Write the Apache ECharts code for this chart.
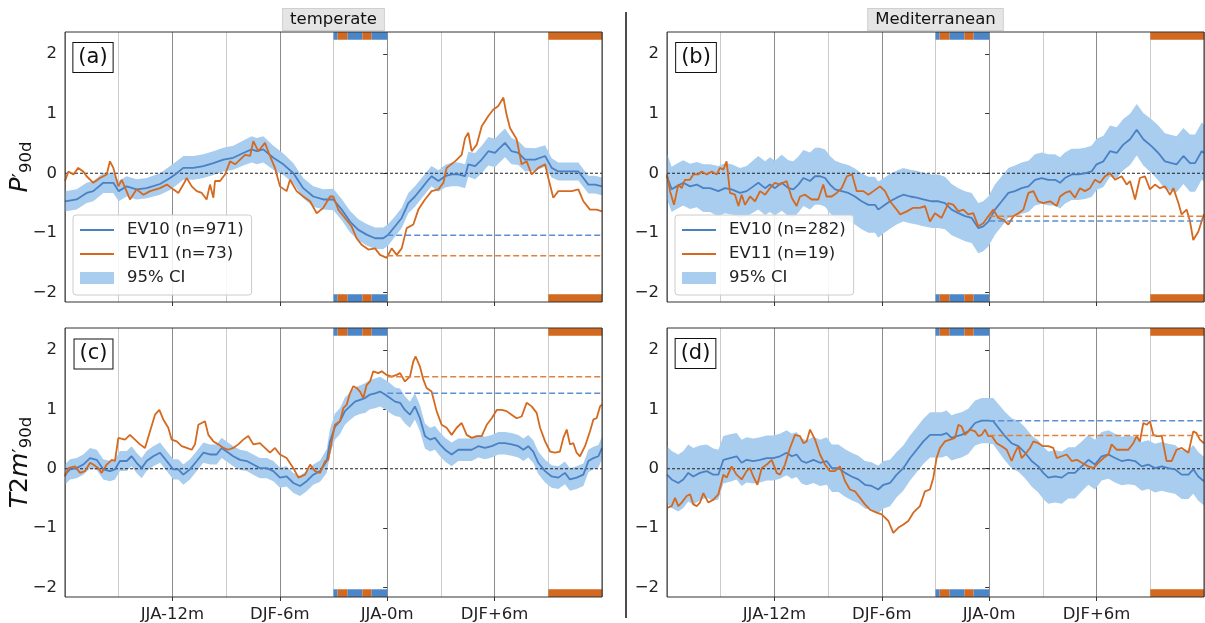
<!DOCTYPE html>
<html>
<head>
    <meta charset='utf-8' />
    <title>EV10 / EV11 composites</title>
    <script src="https://cdn.jsdelivr.net/npm/echarts@6.0.0/dist/echarts.min.js"></script>
</head>
<body style='margin:0;width:1205px;height:623px;background:#fff;'>
<div id='chart' style='width:1205px;height:623px;'></div>

<script type='text/javascript'>
    // x axis: months relative to JJA-0m
    var xTicks = [-12, -6, 0, 6];
    var xTickNames = ['JJA-12m', 'DJF-6m', 'JJA-0m', 'DJF+6m'];
    var yTicks = [-2, -1, 0, 1, 2];

    // seasonal marker bars (months, colour key)
    var stripeBar = [[-3, -2.77, 'b'], [-2.77, -2.21, 'o'], [-2.21, -1.39, 'b'], [-1.39, -0.87, 'o'], [-0.87, 0, 'b']];
    var orangeBar = [[9, 12, 'o']];

    // EV10 rows: [month, mean, CI half width]
    var aEV10 = [[-18,-0.47,0.17],[-17.35,-0.44,0.17],[-16.79,-0.33,0.17],[-16.42,-0.30,0.17],[-15.86,-0.16,0.17],[-15.30,-0.16,0.17],[-15.00,-0.30,0.17],[-14.56,-0.22,0.17],[-14.00,-0.27,0.17],[-13.44,-0.25,0.17],[-12.69,-0.18,0.18],[-12.13,-0.08,0.2],[-11.85,-0.02,0.2],[-11.39,0.09,0.2],[-10.83,0.09,0.2],[-10.27,0.12,0.2],[-9.71,0.17,0.2],[-9.15,0.23,0.2],[-8.60,0.26,0.2],[-8.04,0.34,0.21],[-7.57,0.40,0.22],[-7.29,0.37,0.22],[-6.92,0.40,0.22],[-6.36,0.26,0.2],[-5.80,0.15,0.18],[-5.24,0.00,0.17],[-4.69,-0.25,0.17],[-4.13,-0.39,0.17],[-3.57,-0.44,0.17],[-3.01,-0.44,0.18],[-2.54,-0.61,0.18],[-2.08,-0.81,0.18],[-1.61,-0.95,0.18],[-1.15,-1.03,0.18],[-0.68,-1.09,0.18],[-0.22,-1.09,0.18],[0.06,-1.03,0.18],[0.44,-0.89,0.17],[0.81,-0.75,0.17],[1.18,-0.50,0.17],[1.55,-0.39,0.17],[1.93,-0.25,0.17],[2.30,-0.11,0.17],[2.48,-0.05,0.17],[2.86,-0.13,0.18],[3.23,-0.05,0.19],[3.60,-0.02,0.2],[3.97,-0.02,0.2],[4.35,-0.05,0.2],[4.53,0.15,0.21],[4.91,0.12,0.22],[5.28,0.23,0.23],[5.65,0.37,0.24],[6.02,0.34,0.24],[6.21,0.40,0.24],[6.58,0.51,0.24],[6.95,0.37,0.22],[7.33,0.34,0.2],[7.70,0.23,0.2],[8.26,0.23,0.19],[8.82,0.29,0.18],[9.19,0.09,0.16],[9.56,0.03,0.15],[10.12,0.03,0.15],[10.68,0.03,0.15],[11.24,-0.19,0.15],[11.61,-0.19,0.15],[12,-0.22,0.15]];
    var bEV10 = [[-18,-0.05,0.38],[-17.74,-0.27,0.38],[-17.46,-0.22,0.38],[-17.09,-0.16,0.38],[-16.71,-0.22,0.38],[-16.34,-0.19,0.38],[-15.97,-0.25,0.4],[-15.60,-0.25,0.4],[-15.13,-0.30,0.42],[-14.76,-0.25,0.42],[-14.39,-0.27,0.42],[-13.92,-0.33,0.42],[-13.55,-0.30,0.42],[-13.18,-0.22,0.44],[-12.90,-0.16,0.45],[-12.52,-0.25,0.45],[-12.25,-0.19,0.46],[-11.97,-0.25,0.46],[-11.59,-0.16,0.47],[-11.22,-0.25,0.47],[-10.94,-0.27,0.47],[-10.66,-0.19,0.47],[-10.38,-0.08,0.47],[-10.01,-0.13,0.48],[-9.73,-0.05,0.48],[-9.45,-0.05,0.48],[-9.17,-0.08,0.48],[-8.89,-0.19,0.48],[-8.61,-0.27,0.48],[-8.24,-0.30,0.47],[-7.87,-0.33,0.47],[-7.50,-0.39,0.47],[-7.13,-0.47,0.47],[-6.75,-0.53,0.47],[-6.38,-0.53,0.47],[-6.20,-0.61,0.47],[-5.92,-0.55,0.46],[-5.54,-0.47,0.46],[-5.17,-0.41,0.45],[-4.80,-0.36,0.45],[-4.42,-0.39,0.45],[-4.05,-0.41,0.45],[-3.68,-0.44,0.45],[-3.21,-0.47,0.45],[-2.84,-0.47,0.45],[-2.47,-0.50,0.44],[-2.10,-0.61,0.43],[-1.72,-0.67,0.42],[-1.35,-0.72,0.42],[-0.98,-0.75,0.42],[-0.61,-0.92,0.42],[-0.33,-0.89,0.42],[-0.05,-0.81,0.42],[0.32,-0.61,0.42],[0.70,-0.47,0.42],[1.07,-0.33,0.42],[1.44,-0.30,0.43],[1.81,-0.25,0.43],[2.19,-0.22,0.43],[2.56,-0.11,0.43],[2.93,-0.08,0.43],[3.30,-0.11,0.43],[3.68,-0.11,0.43],[3.96,-0.16,0.43],[4.23,-0.08,0.43],[4.61,-0.02,0.43],[4.98,-0.02,0.43],[5.35,0.00,0.43],[5.72,0.03,0.43],[6.00,0.15,0.43],[6.38,0.20,0.43],[6.75,0.37,0.43],[7.12,0.34,0.43],[7.49,0.48,0.43],[7.87,0.57,0.43],[8.24,0.73,0.43],[8.61,0.57,0.44],[9.08,0.45,0.45],[9.45,0.34,0.46],[9.82,0.20,0.47],[10.19,0.17,0.47],[10.47,0.15,0.47],[10.85,0.29,0.47],[11.22,0.17,0.48],[11.50,0.17,0.48],[11.87,0.37,0.48],[12,0.34,0.48]];
    var cEV10 = [[-18,-0.10,0.17],[-17.72,-0.01,0.17],[-17.35,0.01,0.17],[-16.98,0.07,0.17],[-16.60,0.18,0.17],[-16.23,0.15,0.17],[-15.86,-0.01,0.17],[-15.49,-0.04,0.17],[-15.21,-0.01,0.17],[-14.93,0.13,0.17],[-14.55,0.13,0.17],[-14.28,0.21,0.17],[-14.00,0.10,0.17],[-13.72,0.01,0.17],[-13.44,0.13,0.17],[-13.07,0.21,0.17],[-12.69,0.27,0.17],[-12.32,0.13,0.17],[-11.95,-0.01,0.17],[-11.67,-0.01,0.17],[-11.39,-0.10,0.17],[-11.02,-0.01,0.17],[-10.64,0.13,0.17],[-10.27,0.27,0.17],[-9.90,0.24,0.17],[-9.53,0.24,0.17],[-9.25,0.35,0.17],[-8.97,0.29,0.17],[-8.60,0.21,0.17],[-8.22,0.15,0.17],[-7.85,0.13,0.17],[-7.48,0.07,0.17],[-7.11,0.01,0.17],[-6.73,0.01,0.17],[-6.36,-0.04,0.17],[-5.99,-0.15,0.17],[-5.62,-0.13,0.17],[-5.24,-0.24,0.17],[-4.87,-0.29,0.17],[-4.50,-0.21,0.17],[-4.13,-0.10,0.17],[-3.75,-0.04,0.18],[-3.38,0.13,0.2],[-3.20,0.45,0.21],[-2.92,0.71,0.22],[-2.64,0.80,0.22],[-2.36,0.97,0.23],[-2.08,1.05,0.23],[-1.80,1.13,0.24],[-1.52,1.16,0.24],[-1.24,1.19,0.25],[-0.96,1.25,0.25],[-0.68,1.27,0.25],[-0.40,1.30,0.25],[-0.12,1.25,0.25],[0.16,1.19,0.25],[0.44,1.13,0.24],[0.72,1.11,0.24],[0.99,0.99,0.23],[1.27,0.91,0.22],[1.55,1.05,0.22],[1.83,0.85,0.22],[2.11,0.55,0.21],[2.39,0.49,0.2],[2.67,0.52,0.2],[2.95,0.41,0.2],[3.23,0.32,0.2],[3.60,0.24,0.2],[3.97,0.32,0.19],[4.35,0.32,0.19],[4.72,0.32,0.19],[5.09,0.38,0.19],[5.46,0.35,0.19],[5.84,0.38,0.19],[6.21,0.43,0.19],[6.58,0.43,0.19],[6.95,0.41,0.19],[7.33,0.38,0.19],[7.61,0.32,0.19],[7.88,0.38,0.19],[8.16,0.29,0.19],[8.44,0.10,0.19],[8.82,-0.04,0.19],[9.19,-0.13,0.19],[9.56,-0.15,0.19],[9.93,-0.07,0.19],[10.21,-0.18,0.19],[10.58,-0.15,0.19],[10.96,-0.10,0.19],[11.24,0.13,0.19],[11.52,0.18,0.19],[11.80,0.21,0.19],[12,0.35,0.19]];
    var dEV10 = [[-18,-0.10,0.48],[-17.74,-0.18,0.48],[-17.37,-0.24,0.48],[-17.09,-0.18,0.48],[-16.81,-0.07,0.48],[-16.53,-0.13,0.48],[-16.16,-0.07,0.46],[-15.78,-0.04,0.45],[-15.41,-0.10,0.44],[-15.13,-0.10,0.42],[-14.85,0.15,0.4],[-14.48,0.18,0.4],[-14.11,0.21,0.39],[-13.83,0.10,0.39],[-13.55,0.15,0.38],[-13.18,0.13,0.38],[-12.80,0.15,0.38],[-12.43,0.18,0.38],[-12.06,0.18,0.38],[-11.69,0.21,0.38],[-11.32,0.27,0.38],[-11.03,0.21,0.38],[-10.76,0.24,0.38],[-10.48,0.13,0.38],[-10.20,0.10,0.38],[-9.82,0.15,0.39],[-9.45,0.10,0.39],[-9.08,0.13,0.4],[-8.79,0.01,0.4],[-8.42,0.01,0.4],[-8.05,-0.07,0.4],[-7.69,-0.13,0.4],[-7.31,-0.18,0.4],[-6.94,-0.27,0.4],[-6.57,-0.29,0.4],[-6.20,-0.35,0.4],[-5.91,-0.27,0.4],[-5.54,-0.24,0.39],[-5.17,-0.10,0.38],[-4.80,0.01,0.38],[-4.42,0.18,0.38],[-4.05,0.32,0.38],[-3.68,0.46,0.38],[-3.30,0.57,0.38],[-3.03,0.57,0.38],[-2.66,0.57,0.38],[-2.38,0.60,0.38],[-2.10,0.52,0.38],[-1.82,0.55,0.38],[-1.54,0.57,0.38],[-1.17,0.63,0.38],[-0.79,0.77,0.38],[-0.42,0.81,0.38],[-0.05,0.81,0.38],[0.23,0.80,0.39],[0.51,0.69,0.4],[0.88,0.55,0.41],[1.25,0.43,0.42],[1.63,0.38,0.43],[2.00,0.27,0.43],[2.37,0.13,0.43],[2.74,0.04,0.44],[3.02,-0.07,0.44],[3.30,-0.15,0.44],[3.68,-0.13,0.44],[4.05,-0.15,0.44],[4.42,-0.07,0.43],[4.79,-0.07,0.43],[5.17,0.04,0.42],[5.54,0.15,0.42],[5.91,0.07,0.42],[6.28,0.21,0.41],[6.66,0.24,0.41],[7.03,0.18,0.41],[7.40,0.13,0.41],[7.77,0.15,0.41],[8.15,0.13,0.41],[8.52,0.04,0.41],[8.89,0.07,0.41],[9.26,0.01,0.41],[9.64,0.04,0.41],[10.01,0.01,0.41],[10.38,-0.01,0.41],[10.75,-0.10,0.41],[11.13,-0.10,0.41],[11.40,-0.01,0.41],[11.68,-0.13,0.41],[12,-0.21,0.41]];

    // EV11 rows: [month, mean]
    var aEV11 = [[-18,-0.13],[-17.81,0.03],[-17.53,-0.02],[-17.26,0.09],[-16.98,0.03],[-16.79,-0.05],[-16.42,-0.16],[-16.04,-0.08],[-15.67,-0.02],[-15.49,0.20],[-15.30,0.09],[-15.02,-0.22],[-14.83,-0.11],[-14.56,-0.30],[-14.37,-0.44],[-14.00,-0.27],[-13.62,-0.36],[-13.25,-0.30],[-12.69,-0.25],[-12.31,-0.19],[-11.95,-0.27],[-11.67,-0.33],[-11.39,-0.19],[-11.20,-0.08],[-10.92,-0.22],[-10.64,-0.30],[-10.36,-0.33],[-10.09,-0.44],[-9.90,-0.19],[-9.71,-0.41],[-9.62,-0.13],[-9.34,-0.13],[-9.06,-0.02],[-8.78,0.20],[-8.50,0.15],[-8.22,0.23],[-7.94,0.31],[-7.66,0.29],[-7.48,0.54],[-7.20,0.37],[-6.83,0.51],[-6.55,0.29],[-6.27,0.09],[-5.99,-0.22],[-5.62,-0.30],[-5.43,-0.11],[-5.06,-0.30],[-4.69,-0.39],[-4.31,-0.47],[-3.94,-0.67],[-3.57,-0.58],[-3.19,-0.39],[-3.01,-0.39],[-2.73,-0.61],[-2.36,-0.75],[-1.99,-0.89],[-1.71,-1.09],[-1.43,-1.20],[-1.05,-1.28],[-0.68,-1.26],[-0.40,-1.37],[-0.03,-1.42],[0.25,-1.26],[0.53,-1.37],[0.81,-1.26],[1.09,-0.92],[1.46,-0.86],[1.74,-0.61],[2.11,-0.44],[2.48,-0.30],[2.86,-0.27],[3.14,-0.16],[3.32,0.09],[3.79,0.20],[4.16,0.31],[4.35,0.59],[4.53,0.68],[4.72,0.37],[5.00,0.48],[5.28,0.79],[5.65,0.96],[5.93,1.07],[6.21,1.13],[6.49,1.27],[6.67,0.98],[6.86,0.76],[7.23,0.57],[7.51,0.15],[7.79,0.20],[8.07,-0.02],[8.44,0.09],[8.82,0.15],[9.00,-0.08],[9.28,-0.41],[9.56,-0.30],[9.93,-0.30],[10.31,-0.30],[10.68,-0.27],[10.96,-0.47],[11.33,-0.61],[11.70,-0.61],[12,-0.64]];
    var bEV11 = [[-18,-0.02],[-17.83,-0.30],[-17.61,-0.53],[-17.37,-0.19],[-17.18,-0.25],[-17.00,-0.11],[-16.72,-0.11],[-16.53,-0.02],[-16.25,-0.02],[-16.06,0.03],[-15.78,-0.02],[-15.50,0.03],[-15.22,-0.02],[-15.04,0.09],[-14.85,0.06],[-14.67,0.20],[-14.48,-0.33],[-14.20,-0.36],[-14.01,-0.55],[-13.83,-0.36],[-13.64,-0.53],[-13.36,-0.39],[-13.08,-0.47],[-12.80,-0.30],[-12.52,-0.36],[-12.25,-0.25],[-11.97,-0.16],[-11.69,-0.19],[-11.32,-0.13],[-11.03,-0.41],[-10.76,-0.55],[-10.57,-0.39],[-10.29,-0.36],[-9.92,-0.44],[-9.55,-0.44],[-9.27,-0.19],[-9.09,-0.39],[-8.80,-0.39],[-8.52,-0.33],[-8.24,-0.25],[-7.95,-0.05],[-7.66,-0.02],[-7.40,-0.30],[-7.03,-0.30],[-6.75,-0.36],[-6.47,-0.30],[-6.10,-0.22],[-5.82,-0.30],[-5.54,-0.47],[-5.25,-0.58],[-4.97,-0.69],[-4.60,-0.64],[-4.24,-0.58],[-3.87,-0.58],[-3.59,-0.55],[-3.31,-0.81],[-3.03,-0.67],[-2.66,-0.75],[-2.28,-0.50],[-2.00,-0.53],[-1.72,-0.64],[-1.45,-0.61],[-1.17,-0.69],[-0.89,-0.67],[-0.61,-0.89],[-0.33,-0.84],[-0.05,-0.72],[0.23,-0.61],[0.51,-0.75],[0.79,-0.78],[1.07,-0.86],[1.35,-0.72],[1.63,-0.67],[1.91,-0.61],[2.19,-0.33],[2.47,-0.30],[2.74,-0.47],[3.02,-0.50],[3.40,-0.47],[3.77,-0.55],[3.96,-0.39],[4.23,-0.33],[4.51,-0.30],[4.79,-0.41],[5.07,-0.25],[5.35,-0.30],[5.63,-0.25],[5.91,-0.11],[6.19,-0.16],[6.47,-0.05],[6.75,0.00],[7.03,-0.11],[7.40,-0.05],[7.68,-0.19],[7.87,-0.13],[8.15,-0.44],[8.42,-0.08],[8.70,-0.05],[8.98,-0.27],[9.26,-0.19],[9.54,-0.25],[9.82,-0.22],[10.10,-0.36],[10.29,-0.25],[10.57,-0.50],[10.75,-0.69],[11.03,-0.61],[11.22,-0.81],[11.40,-1.12],[11.68,-0.98],[11.96,-0.72],[12,-0.69]];
    var cEV11 = [[-18,-0.13],[-17.81,0.01],[-17.44,0.04],[-17.16,-0.07],[-16.88,-0.04],[-16.60,0.10],[-16.42,0.07],[-16.14,0.01],[-15.95,-0.07],[-15.67,0.07],[-15.39,0.15],[-15.21,0.13],[-15.02,0.52],[-14.65,0.49],[-14.37,0.57],[-14.09,0.49],[-13.81,0.41],[-13.53,0.35],[-13.25,0.63],[-12.97,0.91],[-12.73,0.99],[-12.51,0.83],[-12.23,0.69],[-12.04,0.49],[-11.76,0.46],[-11.48,0.38],[-11.20,0.35],[-10.92,0.32],[-10.74,0.41],[-10.55,0.74],[-10.18,0.80],[-9.99,0.57],[-9.71,0.46],[-9.43,0.41],[-9.15,0.35],[-8.87,0.32],[-8.60,0.35],[-8.32,0.41],[-8.04,0.49],[-7.76,0.55],[-7.48,0.41],[-7.11,0.43],[-6.83,0.35],[-6.55,0.27],[-6.27,0.35],[-5.99,0.24],[-5.62,0.18],[-5.24,0.01],[-4.96,-0.15],[-4.59,-0.10],[-4.31,0.07],[-4.03,-0.04],[-3.75,-0.07],[-3.47,0.13],[-3.29,0.15],[-3.10,0.46],[-2.92,0.74],[-2.64,0.80],[-2.45,1.02],[-2.26,1.08],[-2.08,1.27],[-1.89,1.39],[-1.71,1.36],[-1.52,1.30],[-1.33,1.19],[-1.15,1.41],[-0.96,1.47],[-0.78,1.64],[-0.50,1.61],[-0.31,1.64],[-0.03,1.58],[0.25,1.55],[0.53,1.58],[0.72,1.61],[0.99,1.47],[1.27,1.55],[1.46,1.81],[1.59,1.89],[1.83,1.72],[2.02,1.50],[2.20,1.36],[2.48,1.30],[2.76,0.97],[3.04,0.74],[3.32,0.69],[3.60,0.57],[3.88,0.69],[4.16,0.77],[4.44,0.57],[4.72,0.52],[5.00,0.55],[5.28,0.55],[5.56,0.74],[5.84,0.85],[6.12,0.99],[6.39,0.99],[6.67,0.97],[6.95,0.91],[7.23,0.85],[7.51,0.88],[7.79,1.11],[8.07,1.05],[8.35,0.94],[8.54,0.69],[8.82,0.46],[9.10,0.29],[9.37,0.27],[9.65,0.29],[9.84,0.52],[10.03,0.66],[10.21,0.41],[10.40,0.43],[10.58,0.27],[10.77,0.21],[11.05,0.38],[11.33,0.63],[11.52,0.83],[11.70,0.85],[11.89,1.05],[12,1.08]];
    var dEV11 = [[-18,-0.66],[-17.74,-0.63],[-17.55,-0.49],[-17.37,-0.63],[-17.18,-0.57],[-16.90,-0.46],[-16.71,-0.43],[-16.53,-0.60],[-16.34,-0.63],[-16.16,-0.57],[-15.97,-0.41],[-15.69,-0.57],[-15.41,-0.52],[-15.13,-0.43],[-14.85,-0.10],[-14.67,-0.15],[-14.39,0.04],[-14.11,-0.10],[-13.83,-0.18],[-13.55,-0.04],[-13.36,0.01],[-13.18,-0.13],[-12.95,-0.27],[-12.71,0.01],[-12.43,0.07],[-12.15,0.15],[-11.87,-0.07],[-11.69,-0.10],[-11.41,0.07],[-11.13,0.35],[-10.85,0.57],[-10.57,0.55],[-10.38,0.43],[-10.20,0.46],[-10.01,0.66],[-9.73,0.49],[-9.45,0.24],[-9.17,0.07],[-8.90,-0.04],[-8.62,-0.04],[-8.34,0.04],[-8.05,-0.21],[-7.78,-0.35],[-7.50,-0.38],[-7.22,-0.49],[-6.94,-0.60],[-6.66,-0.69],[-6.29,-0.74],[-6.01,-0.77],[-5.63,-0.88],[-5.36,-1.08],[-5.07,-0.99],[-4.79,-0.94],[-4.52,-0.88],[-4.24,-0.74],[-3.87,-0.63],[-3.59,-0.38],[-3.31,-0.35],[-3.12,-0.15],[-2.94,0.18],[-2.75,0.35],[-2.47,0.46],[-2.19,0.49],[-1.91,0.52],[-1.72,0.74],[-1.54,0.71],[-1.35,0.57],[-1.07,0.66],[-0.79,0.63],[-0.61,0.55],[-0.42,0.57],[-0.23,0.66],[-0.05,0.55],[0.14,0.55],[0.42,0.43],[0.70,0.38],[0.98,0.32],[1.25,0.13],[1.44,0.27],[1.63,0.38],[1.81,0.18],[2.00,0.24],[2.28,0.35],[2.47,0.46],[2.74,0.43],[3.02,0.38],[3.30,0.38],[3.58,0.35],[3.77,0.18],[4.05,0.21],[4.33,0.24],[4.61,0.13],[4.89,0.15],[5.17,0.10],[5.54,0.04],[5.82,0.01],[6.10,0.10],[6.38,0.18],[6.66,0.24],[6.84,0.41],[7.12,0.32],[7.49,0.32],[7.77,0.32],[8.05,0.43],[8.24,0.55],[8.42,0.46],[8.61,0.77],[8.80,0.74],[8.98,0.80],[9.17,0.57],[9.36,0.55],[9.64,0.55],[9.91,0.13],[10.19,0.13],[10.47,0.32],[10.75,0.35],[11.13,0.27],[11.40,0.63],[11.58,0.60],[11.77,0.49],[12,0.43]];

    // reference levels (dashed, from JJA-0m onward): [EV10, EV11]
    var aLevels = [-1.04, -1.385];
    var bLevels = [-0.80, -0.72];
    var cLevels = [1.27, 1.55];
    var dLevels = [0.81, 0.56];

    var ev10Names = ['EV10 (n=971)', 'EV10 (n=282)', 'EV10 temperate T2m', 'EV10 Mediterranean T2m'];
    var ev11Names = ['EV11 (n=73)', 'EV11 (n=19)', 'EV11 temperate T2m', 'EV11 Mediterranean T2m'];

    var blue = '#4a80c4';
    var orange = '#d4691f';
    var ciColor = '#a8cdef';
    var barColors = { b: '#4a86c8', o: '#d2691e' };
    var font = 'DejaVu Sans';

    var panels = [
        { ev10: aEV10, ev11: aEV11, lv: aLevels },
        { ev10: bEV10, ev11: bEV11, lv: bLevels },
        { ev10: cEV10, ev11: cEV11, lv: cLevels },
        { ev10: dEV10, ev11: dEV11, lv: dLevels }
    ];
    var gridPos = [
        { left: 65, top: 32 },
        { left: 667, top: 32 },
        { left: 65, top: 328 },
        { left: 667, top: 328 }
    ];
    var yMin = -2.16, yMax = 2.37;

    var grids = [], xAxes = [], yAxes = [], series = [];

    var nameRich = {
        i: { fontFamily: font, fontSize: 25, fontStyle: 'italic', lineHeight: 29, color: '#111' },
        r: { fontFamily: font, fontSize: 25, lineHeight: 29, color: '#111' },
        p: { fontFamily: font, fontSize: 20, lineHeight: 20, verticalAlign: 'middle', color: '#111' },
        s: { fontFamily: font, fontSize: 16.5, lineHeight: 16, verticalAlign: 'bottom', color: '#111' }
    };
    var yNames = ['{i|P}{p|\u2032}{s|90d}', '', '{i|T}{r|2}{i|m}{p|\u2032}{s|90d}', ''];

    function barAreas(list, y0, y1) {
        return list.map(function (b) {
            return [{ xAxis: b[0], yAxis: y0, itemStyle: { color: barColors[b[2]], opacity: 1 } }, { xAxis: b[1], yAxis: y1 }];
        });
    }

    // CI band drawn as one polygon through the axis scales
    function bandRenderer(rows) {
        return function (params, api) {
            if (params.dataIndex !== 0) return;
            var upper = rows.map(function (r) { return api.coord([r[0], r[1] + r[2]]); });
            var lower = rows.map(function (r) { return api.coord([r[0], r[1] - r[2]]); }).reverse();
            return {
                type: 'polygon',
                shape: { points: upper.concat(lower) },
                style: { fill: ciColor, stroke: 'none' }
            };
        };
    }

    panels.forEach(function (p, g) {
        grids.push({
            left: gridPos[g].left, top: gridPos[g].top, width: 537, height: 270,
            show: true, borderColor: '#333', borderWidth: 1, backgroundColor: 'transparent', z: 10
        });
        // gridline axis (every 3 months)
        xAxes.push({
            gridIndex: g, type: 'value', min: -18, max: 12, interval: 3, position: 'bottom',
            axisLine: { show: false }, axisTick: { show: false }, axisLabel: { show: false },
            splitLine: { show: true, lineStyle: { color: ['#8c8c8c', '#cccccc'], width: 1 } }
        });
        // labelled axis
        xAxes.push({
            gridIndex: g, type: 'value', min: -18, max: 12, position: 'bottom',
            axisLine: { show: false }, splitLine: { show: false },
            axisTick: { show: true, customValues: xTicks, length: 4, lineStyle: { color: '#333' } },
            axisLabel: {
                show: g >= 2, customValues: xTicks, margin: 9, fontSize: 16.5, fontFamily: font, color: '#222',
                formatter: function (v) { return xTickNames[xTicks.indexOf(Math.round(v))] || ''; }
            }
        });
        yAxes.push({
            gridIndex: g, type: 'value', min: yMin, max: yMax,
            axisLine: { show: false }, splitLine: { show: false },
            axisTick: { show: true, customValues: yTicks, length: 4, lineStyle: { color: '#333' } },
            axisLabel: {
                customValues: yTicks, margin: 8, fontSize: 16.5, fontFamily: font, color: '#222',
                formatter: function (v) { return String(Math.round(v)).replace('-', '\u2212'); }
            },
            name: yNames[g], nameLocation: 'middle', nameRotate: 90, nameGap: 30, nameMoveOverlap: false,
            nameTextStyle: { rich: nameRich }
        });

        var xi = 2 * g;
        series.push({
            name: '95% CI', type: 'custom', xAxisIndex: xi, yAxisIndex: g,
            data: p.ev10, encode: { x: 0, y: 1 },
            renderItem: bandRenderer(p.ev10),
            itemStyle: { color: ciColor }, silent: true, z: 1
        });
        // zero line + seasonal marker bars
        series.push({
            type: 'line', xAxisIndex: xi, yAxisIndex: g, data: [[-18, 0], [12, 0]],
            symbol: 'none', lineStyle: { color: '#222', width: 1.2, type: [3, 2] }, silent: true, z: 2,
            markArea: {
                silent: true,
                data: barAreas(stripeBar.concat(orangeBar), 2.24, yMax).concat(barAreas(stripeBar.concat(orangeBar), yMin, -2.03))
            }
        });
        series.push({
            name: ev10Names[g], type: 'line', xAxisIndex: xi, yAxisIndex: g,
            data: p.ev10.map(function (r) { return [r[0], r[1]]; }),
            symbol: 'none', lineStyle: { color: blue, width: 1.8 }, itemStyle: { color: blue }, z: 3
        });
        series.push({
            name: ev11Names[g], type: 'line', xAxisIndex: xi, yAxisIndex: g, data: p.ev11,
            symbol: 'none', lineStyle: { color: orange, width: 1.8 }, itemStyle: { color: orange }, z: 4
        });
        series.push({
            type: 'line', xAxisIndex: xi, yAxisIndex: g, data: [[0, p.lv[0]], [12, p.lv[0]]],
            symbol: 'none', lineStyle: { color: '#5b8fd2', width: 1.5, type: [6, 3] }, silent: true, z: 5
        });
        series.push({
            type: 'line', xAxisIndex: xi, yAxisIndex: g, data: [[0, p.lv[1]], [12, p.lv[1]]],
            symbol: 'none', lineStyle: { color: '#e0823c', width: 1.5, type: [6, 3] }, silent: true, z: 5
        });
    });

    function legendFor(left, names) {
        return {
            left: left, top: 215, orient: 'vertical', selectedMode: false,
            data: [
                { name: names[0], itemStyle: { opacity: 0 } },
                { name: names[1], itemStyle: { opacity: 0 } },
                { name: '95% CI', icon: 'rect', itemStyle: { color: ciColor, opacity: 1 } }
            ],
            itemWidth: 34, itemHeight: 12, itemGap: 6, padding: [6, 8, 8, 6],
            backgroundColor: 'rgba(255,255,255,0.85)', borderColor: '#cccccc', borderWidth: 1, borderRadius: 3,
            textStyle: { fontSize: 16.5, fontFamily: font, color: '#222', lineHeight: 18, padding: [0, 0, 0, 8] },
            z: 20
        };
    }

    function boxText(x, y, text, size, bg, border, pad) {
        return {
            type: 'text', x: x, y: y, z: 30,
            style: {
                text: text, align: 'center', verticalAlign: 'middle', fill: '#111',
                font: size + 'px "' + font + '"', backgroundColor: bg, borderColor: border, borderWidth: 1, padding: pad
            }
        };
    }

    var option = {
        animation: false,
        textStyle: { fontFamily: font },
        grid: grids,
        xAxis: xAxes,
        yAxis: yAxes,
        legend: [legendFor(73, [ev10Names[0], ev11Names[0]]), legendFor(675, [ev10Names[1], ev11Names[1]])],
        graphic: [
            boxText(333.5, 19.5, 'temperate', 16.5, '#e5e5e5', '#cfcfcf', [2, 7]),
            boxText(935.5, 19.5, 'Mediterranean', 16.5, '#e5e5e5', '#cfcfcf', [2, 7]),
            boxText(93, 57.5, '(a)', 21, '#fff', '#111', [4, 5]),
            boxText(696, 57.5, '(b)', 21, '#fff', '#111', [4, 5]),
            boxText(93.5, 354, '(c)', 21, '#fff', '#111', [4, 5]),
            boxText(695.5, 353.5, '(d)', 21, '#fff', '#111', [4, 5]),
            { type: 'line', z: 30, shape: { x1: 626, y1: 12, x2: 626, y2: 618 }, style: { stroke: '#111', lineWidth: 1.5 } }
        ],
        series: series
    };

    var myChart = echarts.init(document.getElementById('chart'));
    myChart.setOption(option);
</script>
</body>
</html>
